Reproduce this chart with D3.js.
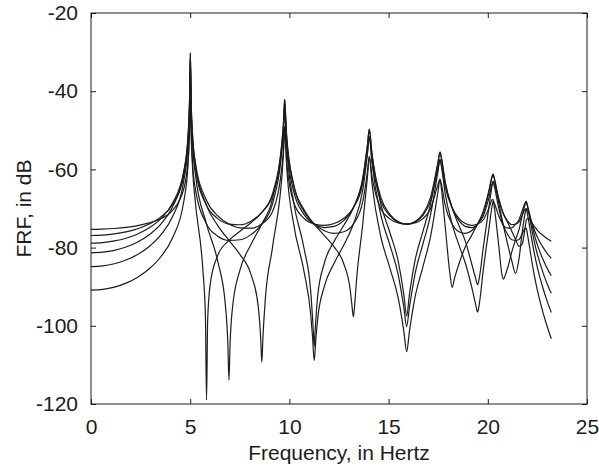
<!DOCTYPE html>
<html lang="en">
<head>
<meta charset="utf-8">
<script src="https://cdn.jsdelivr.net/npm/d3@7"></script>
<style>
  body { margin: 0; background: #fff; }
</style>
</head>
<body>
<div id="chart"></div>
<script>
// frequency points (Hz) shared by all six FRF curves
const freqHz = [0, 0.589, 1.178, 1.765, 2.352, 2.937, 3.520, 4.100, 4.678, 4.892,
  4.968, 5.007, 5.045, 5.121, 5.253, 5.823, 6.390, 6.953, 7.511, 8.063,
  8.610, 9.152, 9.686, 9.727, 9.762, 9.798, 9.868, 10.215, 10.736, 11.250,
  11.756, 12.254, 12.744, 13.225, 13.697, 13.936, 14.029, 14.160, 14.613, 15.055,
  15.488, 15.910, 16.321, 16.721, 17.109, 17.486, 17.591, 17.665, 17.850, 18.203,
  18.543, 18.870, 19.184, 19.486, 19.773, 20.048, 20.220, 20.272, 20.308, 20.555,
  20.787, 21.006, 21.209, 21.399, 21.573, 21.733, 21.878, 21.936, 22.008, 22.123,
  22.223, 22.308, 22.377, 22.469, 22.500, 22.800, 23.000, 23.200];

// FRF magnitude in dB, one array per curve
const frf1 = [-75.32, -75.27, -75.11, -74.82, -74.37, -73.68, -72.58, -70.54, -64.96, -57.49,
  -48.63, -37.2, -49.38, -59.76, -68.07, -119.0, -81.99, -78.16, -75.81, -73.63,
  -70.97, -66.61, -51.14, -47.0, -44.0, -47.2, -54.39, -68.40, -80.16, -105.3,
  -84.07, -78.41, -74.29, -69.80, -62.24, -53.67, -49.7, -56.11, -68.96, -76.02,
  -83.58, -97.5, -83.58, -76.02, -68.96, -58.49, -55.6, -57.09, -63.12, -69.80,
  -74.29, -78.41, -84.07, -89.5, -79.93, -70.03, -64.11, -63.06, -63.45, -67.82,
  -71.36, -73.63, -75.8, -77.9, -79.68, -79.12, -75.00, -73.10, -72.53, -72.83,
  -73.64, -74.30, -74.79, -75.39, -75.57, -76.98, -77.73, -78.35];
const frf2 = [-76.90, -76.81, -76.51, -75.99, -75.18, -73.98, -72.14, -69.00, -61.59, -53.07,
  -43.76, -32.1, -44.00, -53.80, -60.88, -73.98, -83.53, -113.9, -85.71, -79.21,
  -73.98, -67.42, -49.61, -45.3, -42.1, -45.1, -51.93, -63.78, -70.26, -73.98,
  -76.88, -79.81, -84.19, -97.7, -73.98, -61.79, -56.7, -61.66, -70.13, -72.65,
  -73.68, -73.98, -73.68, -72.65, -70.13, -63.97, -62.5, -65.10, -74.45, -90.2,
  -84.19, -79.81, -76.88, -73.98, -70.68, -65.58, -61.69, -61.19, -61.89, -68.65,
  -74.36, -79.21, -83.4, -86.6, -82.86, -76.16, -71.33, -70.06, -70.47, -71.97,
  -73.64, -74.92, -75.86, -76.98, -77.33, -80.08, -81.53, -82.76];
const frf3 = [-78.84, -78.71, -78.30, -77.60, -76.51, -74.93, -72.58, -68.75, -60.39, -51.43,
  -41.93, -30.2, -41.99, -51.59, -58.31, -69.21, -74.37, -78.16, -81.78, -86.83,
  -109.3, -79.81, -57.12, -52.5, -49.1, -51.9, -58.34, -68.40, -72.54, -73.98,
  -74.31, -73.84, -72.50, -69.80, -63.49, -55.42, -51.6, -58.25, -71.74, -79.21,
  -87.02, -100.2, -87.02, -79.21, -71.74, -60.62, -57.5, -58.83, -64.36, -69.80,
  -72.50, -73.84, -74.31, -73.98, -72.87, -70.03, -67.79, -67.7, -68.90, -79.63,
  -88.1, -85.1, -81.1, -78.0, -75.41, -71.91, -68.97, -68.30, -69.40, -71.83,
  -74.16, -75.94, -77.26, -78.82, -79.31, -83.26, -85.38, -87.21];
const frf4 = [-81.34, -81.18, -80.69, -79.84, -78.55, -76.69, -73.98, -69.70, -60.78, -51.57,
  -41.98, -30.2, -41.94, -51.44, -57.98, -67.96, -71.90, -73.98, -74.97, -75.03,
  -73.98, -70.79, -56.17, -52.1, -49.1, -52.4, -59.64, -73.98, -86.07, -108.9,
  -89.98, -83.99, -79.31, -73.98, -65.25, -55.92, -51.6, -57.51, -68.12, -71.84,
  -73.49, -73.98, -73.49, -71.84, -68.12, -59.89, -57.5, -59.34, -66.12, -73.98,
  -79.31, -83.99, -89.98, -96.5, -85.62, -75.51, -69.29, -68.11, -68.43, -71.94,
  -74.32, -75.03, -74.97, -73.98, -72.87, -70.59, -68.55, -68.19, -69.68, -72.71,
  -75.49, -77.62, -79.21, -81.12, -81.72, -86.65, -89.35, -91.70];
const frf5 = [-84.86, -84.69, -84.13, -83.18, -81.74, -79.70, -76.76, -72.19, -62.92, -53.57,
  -43.93, -32.1, -43.83, -53.28, -59.71, -69.21, -72.58, -73.98, -74.16, -73.24,
  -70.97, -66.22, -49.50, -45.3, -42.1, -45.2, -52.05, -64.22, -70.75, -73.98,
  -75.71, -76.37, -75.94, -73.98, -68.26, -60.45, -56.7, -63.48, -77.32, -85.04,
  -93.00, -106.6, -93.00, -85.04, -77.32, -65.84, -62.6, -63.85, -69.12, -73.98,
  -75.94, -76.37, -75.71, -73.98, -71.17, -66.02, -61.83, -61.2, -61.82, -67.47,
  -71.39, -73.24, -74.16, -73.98, -73.48, -71.76, -70.18, -70.00, -71.71, -75.08,
  -78.13, -80.50, -82.26, -84.42, -85.10, -90.72, -93.83, -96.59];
const frf6 = [-90.88, -90.69, -90.11, -89.09, -87.57, -85.42, -82.34, -77.61, -68.15, -58.72,
  -49.06, -37.2, -48.93, -58.35, -64.73, -73.98, -77.07, -78.16, -77.99, -76.68,
  -73.98, -68.75, -51.50, -47.2, -44.0, -47.0, -53.87, -65.62, -71.49, -73.98,
  -74.87, -74.58, -73.05, -69.80, -62.54, -53.80, -49.7, -55.86, -67.23, -71.45,
  -73.39, -73.98, -73.39, -71.45, -67.23, -58.24, -55.6, -57.23, -63.42, -69.80,
  -73.05, -74.58, -74.87, -73.98, -71.91, -67.42, -63.63, -63.10, -63.79, -69.99,
  -74.40, -76.68, -77.99, -78.16, -77.92, -76.49, -75.13, -75.04, -76.86, -80.42,
  -83.62, -86.11, -87.96, -90.26, -90.96, -96.96, -100.3, -103.31];

// extra [Hz, dB] points read around each curve's antiresonance notches
const notch1 = [[5.634, -85.44], [5.767, -97.44], [5.880, -98.55], [6.013, -89.19],
  [11.079, -91.47], [11.199, -100.73], [11.301, -100.97], [11.420, -92.64],
  [15.770, -92.07], [16.048, -92.07], [19.387, -87.86], [19.583, -87.43]];
const notch2 = [[6.766, -94.32], [6.897, -104.54], [7.009, -104.72], [7.139, -95.01],
  [13.066, -90.85], [13.146, -94.46], [13.305, -93.63], [13.383, -88.34],
  [18.087, -86.48], [18.318, -87.94]];
const notch3 = [[8.429, -95.04], [8.556, -103.52], [8.665, -103.05], [8.791, -92.90],
  [15.770, -95.34], [16.048, -95.34], [20.711, -86.86], [20.862, -87.30]];
const notch4 = [[11.079, -97.33], [11.165, -102.8], [11.335, -103.27], [11.420, -98.47],
  [19.387, -94.52], [19.583, -94.03]];
const notch5 = [[15.770, -101.5], [16.048, -101.5]];
const notch6 = [];

const xTicks = [0, 5, 10, 15, 20, 25];
const yTicks = [-120, -100, -80, -60, -40, -20];

const width = 599, height = 470;
const font = '"Liberation Sans", Arial, Helvetica, sans-serif';
const ink = "#1c1c1c";

const x = d3.scaleLinear().domain([0, 25]).range([91, 587]);
const y = d3.scaleLinear().domain([-120, -20]).range([404, 13]);

const svg = d3.select("#chart").append("svg")
  .attr("width", width)
  .attr("height", height);

// curves
const series = [[frf1, notch1], [frf2, notch2], [frf3, notch3],
                [frf4, notch4], [frf5, notch5], [frf6, notch6]];

const line = d3.line()
  .x(d => x(d[0]))
  .y(d => y(d[1]))
  .curve(d3.curveMonotoneX);

series.forEach(([vals, extra]) => {
  const pts = freqHz.map((f, i) => [f, vals[i]])
    .concat(extra)
    .sort((a, b) => a[0] - b[0]);
  svg.append("path")
    .datum(pts)
    .attr("fill", "none")
    .attr("stroke", ink)
    .attr("stroke-width", 1.2)
    .attr("stroke-linejoin", "round")
    .attr("d", line);
});

// box with inward ticks
svg.append("rect")
  .attr("x", x(0)).attr("y", y(-20))
  .attr("width", x(25) - x(0))
  .attr("height", y(-120) - y(-20))
  .attr("fill", "none")
  .attr("stroke", ink)
  .attr("stroke-width", 1);

function styleAxis(g) {
  g.attr("font-family", font).attr("font-size", 21);
  g.select(".domain").remove();
  g.selectAll(".tick line").attr("stroke", ink);
  g.selectAll(".tick text").attr("fill", ink);
}

// plain hyphen for negative labels, as in the original figure
const plain = d => String(d);

svg.append("g")
  .attr("transform", `translate(0,${y(-120)})`)
  .call(d3.axisBottom(x).tickValues(xTicks).tickFormat(plain).tickSize(-5).tickSizeOuter(0).tickPadding(15))
  .call(styleAxis);

svg.append("g")
  .attr("transform", `translate(0,${y(-20)})`)
  .call(d3.axisTop(x).tickValues(xTicks).tickSize(-5).tickSizeOuter(0).tickFormat(""))
  .call(styleAxis);

svg.append("g")
  .attr("transform", `translate(${x(0)},0)`)
  .call(d3.axisLeft(y).tickValues(yTicks).tickFormat(plain).tickSize(-5).tickSizeOuter(0).tickPadding(13))
  .call(styleAxis);

svg.append("g")
  .attr("transform", `translate(${x(25)},0)`)
  .call(d3.axisRight(y).tickValues(yTicks).tickSize(-5).tickSizeOuter(0).tickFormat(""))
  .call(styleAxis);

// axis titles
svg.append("text")
  .attr("x", (x(0) + x(25)) / 2)
  .attr("y", 460)
  .attr("text-anchor", "middle")
  .attr("font-family", font)
  .attr("font-size", 21)
  .attr("fill", ink)
  .text("Frequency, in Hertz");

svg.append("text")
  .attr("transform", `translate(30.5,${(y(-20) + y(-120)) / 2}) rotate(-90)`)
  .attr("text-anchor", "middle")
  .attr("font-family", font)
  .attr("font-size", 21)
  .attr("fill", ink)
  .text("FRF, in dB");
</script>
</body>
</html>
